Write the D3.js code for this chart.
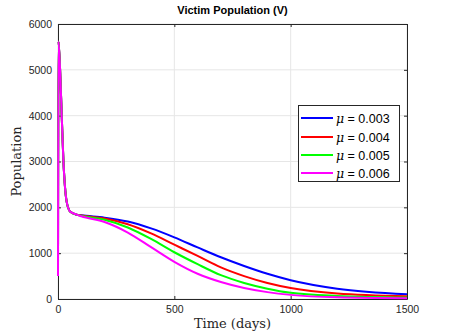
<!DOCTYPE html>
<html><head><meta charset="utf-8">
<script src="https://cdn.jsdelivr.net/npm/d3@7"></script>
<style>body{margin:0;background:#fff}svg{display:block}</style>
</head><body>
<svg id="c" width="449" height="336"></svg>
<script>
// Data
const earlyTimes = [0, 2, 9, 16, 23, 30, 37, 52, 80];
const earlyValues = [500, 5620, 5000, 4000, 3050, 2450, 2130, 1910, 1840];
const lateTimes = [100, 200, 300, 400, 500, 600, 700, 800, 900, 1000, 1200, 1500];
const seriesNames = ["0.003", "0.004", "0.005", "0.006"];
const seriesColors = ["#0000ff", "#ff0000", "#00ff00", "#ff00ff"];
const blueVals    = [1825, 1775, 1690, 1540, 1345, 1125, 910, 720, 550, 410, 225, 105];
const redVals     = [1820, 1755, 1630, 1430, 1185, 940, 690, 500, 350, 240, 120, 60];
const greenVals   = [1815, 1730, 1560, 1310, 1020, 760, 520, 350, 225, 135, 68, 35];
const magentaVals = [1805, 1680, 1450, 1130, 810, 550, 370, 240, 150, 90, 38, 18];
const lateValues = [blueVals, redVals, greenVals, magentaVals];
const xTicks = [0, 500, 1000, 1500];
const yTicks = [0, 1000, 2000, 3000, 4000, 5000, 6000];

const svg = d3.select("#c");
const L = 58, R = 407, T = 24, B = 299;
const x = d3.scaleLinear().domain([0, 1500]).range([L, R]);
const y = d3.scaleLinear().domain([0, 6000]).range([B, T]);
const axisCol = "#262626";
const tickFont = "'Liberation Sans', Arial, sans-serif";
const fmt = d3.format("d");

// grid
svg.append("g").selectAll("line").data(xTicks).join("line")
  .attr("x1", d => x(d)).attr("x2", d => x(d)).attr("y1", T).attr("y2", B)
  .attr("stroke", "#e6e6e6").attr("stroke-width", 1);
svg.append("g").selectAll("line").data(yTicks).join("line")
  .attr("x1", L).attr("x2", R).attr("y1", d => y(d)).attr("y2", d => y(d))
  .attr("stroke", "#e6e6e6").attr("stroke-width", 1);

// axes
const xAxis = d3.axisBottom(x).tickValues(xTicks).tickFormat(fmt).tickSizeInner(-3).tickSizeOuter(0).tickPadding(7);
const yAxis = d3.axisLeft(y).tickValues(yTicks).tickFormat(fmt).tickSizeInner(-3).tickSizeOuter(0).tickPadding(6);
const gx = svg.append("g").attr("transform", `translate(0,${B})`).call(xAxis);
const gy = svg.append("g").attr("transform", `translate(${L},0)`).call(yAxis);
const gxt = svg.append("g").attr("transform", `translate(0,${T})`).call(d3.axisTop(x).tickValues(xTicks).tickSizeInner(-3).tickSizeOuter(0).tickFormat(""));
const gyr = svg.append("g").attr("transform", `translate(${R},0)`).call(d3.axisRight(y).tickValues(yTicks).tickSizeInner(-3).tickSizeOuter(0).tickFormat(""));
[gx, gy, gxt, gyr].forEach(g => {
  g.selectAll("path.domain").attr("stroke", axisCol).attr("stroke-width", 1);
  g.selectAll(".tick line").attr("stroke", axisCol);
  g.selectAll("text").attr("fill", axisCol).style("font-family", tickFont).style("font-size", "10.5px");
});

// lines
const line = d3.line().x(d => x(d[0])).y(d => y(d[1])).curve(d3.curveMonotoneX);
lateValues.forEach((vals, i) => {
  const pts = earlyTimes.map((t, j) => [t, earlyValues[j]]).concat(lateTimes.map((t, j) => [t, vals[j]]));
  svg.append("path").datum(pts).attr("d", line)
    .attr("fill", "none").attr("stroke", seriesColors[i]).attr("stroke-width", 2)
    .attr("stroke-linejoin", "round");
});

// title and labels
svg.append("text").attr("x", (L + R) / 2).attr("y", 14).attr("text-anchor", "middle")
  .style("font-family", tickFont).style("font-size", "11px").style("font-weight", "bold")
  .attr("fill", "#000").text("Victim Population (V)");
svg.append("text").attr("x", (L + R) / 2).attr("y", 328).attr("text-anchor", "middle")
  .style("font-family", "'DejaVu Serif', 'Liberation Serif', serif").style("font-size", "13px")
  .attr("fill", "#262626").text("Time (days)");
svg.append("text").attr("transform", `translate(21,${(T + B) / 2}) rotate(-90)`).attr("text-anchor", "middle")
  .style("font-family", "'DejaVu Serif', 'Liberation Serif', serif").style("font-size", "13px")
  .attr("fill", "#262626").text("Population");

// legend
const lg = svg.append("g");
lg.append("rect").attr("x", 298.5).attr("y", 105.5).attr("width", 101).attr("height", 76)
  .attr("fill", "#fff").attr("stroke", axisCol).attr("stroke-width", 1);
const rowY = [118, 137, 155, 173];
seriesNames.forEach((n, i) => {
  lg.append("line").attr("x1", 301).attr("x2", 333).attr("y1", rowY[i]).attr("y2", rowY[i])
    .attr("stroke", seriesColors[i]).attr("stroke-width", 2);
  const t = lg.append("text").attr("x", 336).attr("y", rowY[i] + 4.5)
    .style("font-family", tickFont).style("font-size", "12.5px").attr("fill", "#000");
  t.append("tspan").style("font-family", "'DejaVu Serif', 'Liberation Serif', serif").style("font-style", "italic").text("\u03bc");
  t.append("tspan").text(" = " + n);
});
</script>
</body></html>
